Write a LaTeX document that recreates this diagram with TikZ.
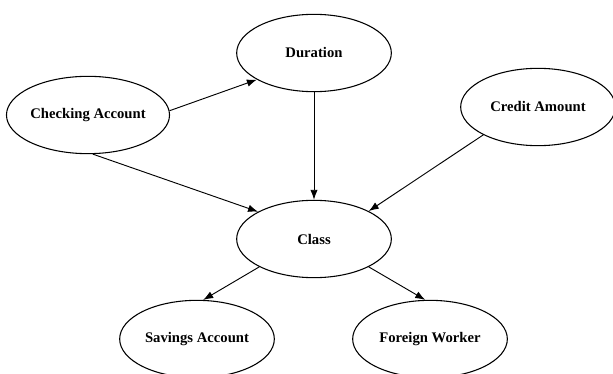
\documentclass[tikz,border=0pt]{standalone}
\usepackage{fontspec}
\setmainfont{Liberation Serif}
\usetikzlibrary{positioning,shapes,arrows.meta}

\tikzset{
  var/.style={ellipse, draw, line width=0.8, minimum width=116pt, minimum height=58pt,
    font=\fontsize{11}{13}\selectfont\bfseries, inner sep=0pt},
  link/.style={-{Latex[length=7.5pt,width=5.5pt]}, line width=0.7}
}

\begin{document}
\begin{tikzpicture}[x=0.75pt,y=-0.75pt]
\useasboundingbox (0,0) rectangle (613,374);
\node[var] (duration) at (314,53) {Duration};
\node[var] (checking) at (88,115) {Checking Account};
\node[var] (credit) at (538,107) {Credit Amount};
\node[var] (class) at (314,239) {Class};
\node[var] (savings) at (197,339) {Savings Account};
\node[var] (foreign) at (430,339) {Foreign Worker};
\draw[link] (checking.3) -- (duration.-155);
\draw[link] (checking.-83) -- (class.154);
\draw[link] (duration.south) -- (class.north);
\draw[link] (credit.207) -- (class.27);
\draw[link] (class.207) -- (savings.81);
\draw[link] (class.-27) -- (foreign.97);
\end{tikzpicture}
\end{document}
